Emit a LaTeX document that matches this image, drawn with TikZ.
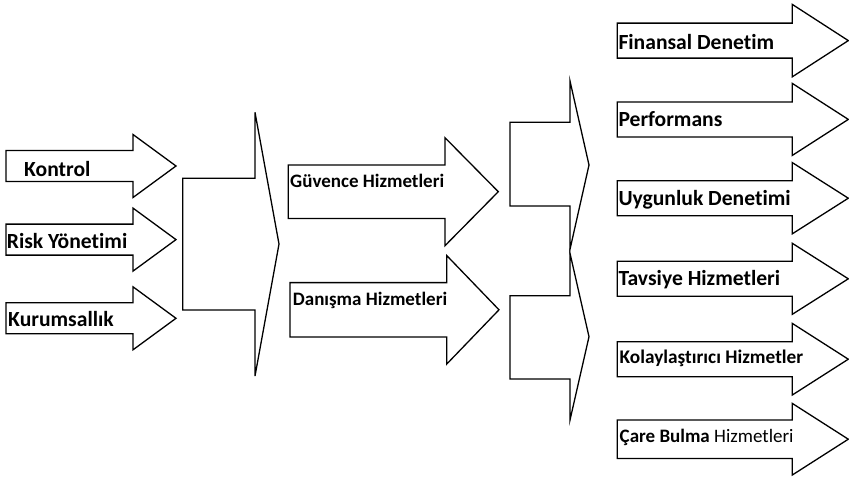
\documentclass[tikz,border=0pt]{standalone}
\usepackage{fontspec}
\setmainfont{Carlito}[Ligatures=CommonOff]
\tikzset{
  shp/.style={draw=black, line width=1.3pt, line join=miter, fill=white},
  lbl/.style={anchor=base west, inner sep=0pt, font=\bfseries\fontsize{#1}{#1}\selectfont},
}
% arrow: left x, shaft end x, tip x, center y, half body, half head
\newcommand{\harr}[6]{%
  \draw[shp] ({#1},{#4-#5}) -- ({#2},{#4-#5}) -- ({#2},{#4-#6}) -- ({#3},{#4})
    -- ({#2},{#4+#6}) -- ({#2},{#4+#5}) -- ({#1},{#4+#5}) -- cycle;}
\begin{document}
\begin{tikzpicture}[x=1pt,y=-1pt]
\useasboundingbox (0,0) rectangle (849,480);
% left arrows
\harr{6}{133}{176}{166}{15.5}{31.5}
\harr{6}{133}{176}{239.6}{15.5}{31.5}
\harr{6}{133}{176}{318.3}{15.5}{31.5}
% big merge
\draw[shp] (182.7,178.3) -- (255,178.3) -- (255,112.3) -- (279,244) -- (255,376) -- (255,310) -- (182.7,310) -- cycle;
% middle arrows
\harr{288.3}{445}{498.3}{191.7}{26.7}{54}
\harr{290}{446.7}{499}{309.8}{27.2}{54.3}
% right merges
\draw[shp] (510,122.3) -- (570,122.3) -- (570,81) -- (589,165) -- (570,249.3) -- (570,206) -- (510,206) -- cycle;
\draw[shp] (510,295.7) -- (570,295.7) -- (570,253.3) -- (589,336.7) -- (570,420) -- (570,379) -- (510,379) -- cycle;
% right arrows
\harr{617.3}{792.3}{848.3}{40.6}{17.5}{36.2}
\harr{617.3}{792.3}{848.3}{119.4}{17.5}{36}
\harr{617.3}{792.3}{848.3}{198.2}{17.5}{35.6}
\harr{617.3}{792.3}{848.3}{278.8}{17.5}{35.5}
\harr{617.3}{792.3}{848.3}{359.2}{17.5}{35.8}
\harr{617.3}{792.3}{848.3}{439.2}{19.2}{35.8}
% labels
\node[lbl=21.6] (kon) at (24,176.7) {Kontrol};
\node[lbl=21.6] (risk) at (6.7,248) {Risk Yönetimi};
\node[lbl=21.6] (kur) at (8,326.7) {Kurumsallık};
\node[lbl=19] (guv) at (290,187.3) {Güvence Hizmetleri};
\node[lbl=19] (dan) at (292.7,305) {Danışma Hizmetleri};
\node[lbl=21.6] (fin) at (618.3,49.3) {Finansal Denetim};
\node[lbl=21.6] (perf) at (618.3,126.7) {Performans};
\node[lbl=21.6] (uyg) at (618.3,205) {Uygunluk Denetimi};
\node[lbl=21.6] (tav) at (618.3,285) {Tavsiye Hizmetleri};
\node[lbl=19.3] (kol) at (619.5,363.3) {Kolaylaştırıcı Hizmetler};
\node[lbl=19] (care) at (619.5,442.7) {Çare Bulma \mdseries Hizmetleri};
\end{tikzpicture}
\end{document}
